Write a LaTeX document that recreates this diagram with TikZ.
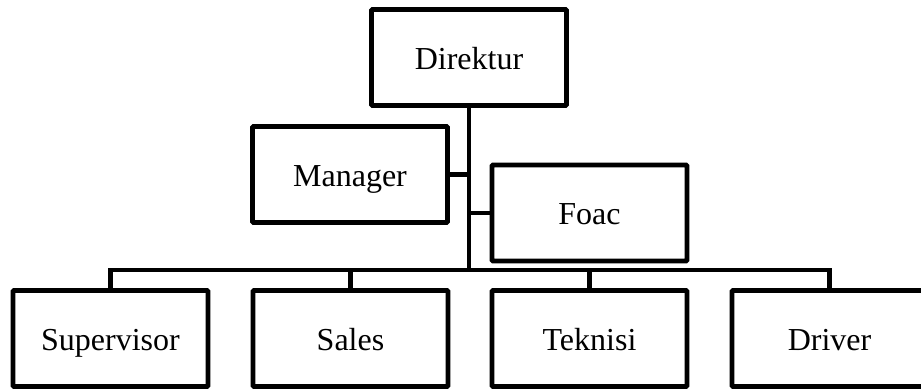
\documentclass[tikz,border=0pt]{standalone}
\usepackage{fontspec}
\setmainfont{Liberation Serif}
\begin{document}
\begin{tikzpicture}[x=1pt,y=-1pt,
  orgbox/.style={draw=black, line width=4.8pt, rounded corners=1pt, fill=white,
    minimum width=195pt, minimum height=96pt, inner sep=0pt,
    text height=29pt, text depth=5pt,
    font=\fontsize{32}{36}\selectfont},
  link/.style={draw=black, line width=4.8pt}]
\useasboundingbox (0,0) rectangle (921,390);
\node[orgbox] (dir) at (469,57.5) {Direktur};
\node[orgbox] (man) at (350,174.5) {Manager};
\node[orgbox] (foa) at (589.5,213) {Foac};
\node[orgbox] (sup) at (110.5,338.5) {Supervisor};
\node[orgbox] (sal) at (350.5,338.5) {Sales};
\node[orgbox] (tek) at (589.5,338.5) {Teknisi};
\node[orgbox] (drv) at (829.5,338.5) {Driver};
\coordinate (bus) at (469,270);
\draw[link] (dir.south) -- (bus);
\draw[link] (man.east) -- (man.east -| bus);
\draw[link] (foa.west) -- (foa.west -| bus);
\draw[link] (sup.north) |- (bus) -| (drv.north);
\draw[link] (sal.north) -- (sal.north |- bus);
\draw[link] (tek.north) -- (tek.north |- bus);
\end{tikzpicture}
\end{document}
